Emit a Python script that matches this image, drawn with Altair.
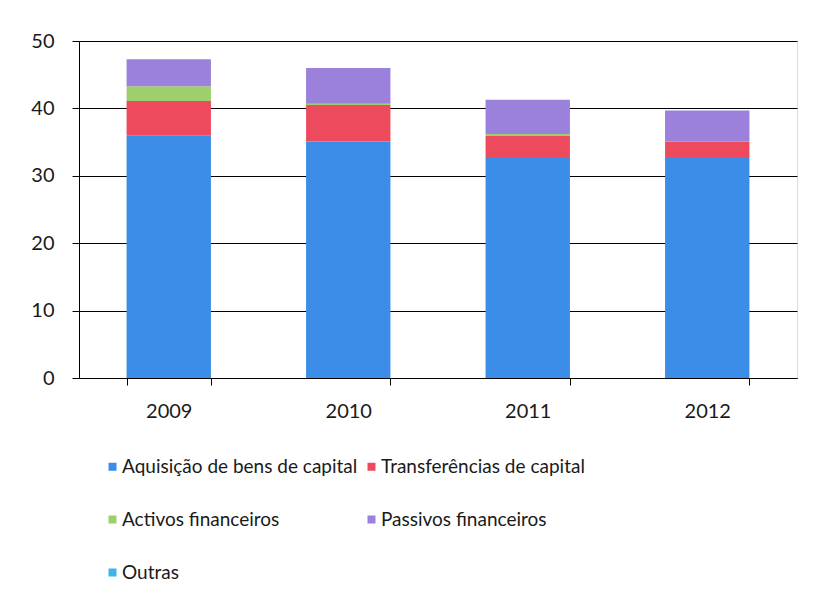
import altair as alt
import pandas as pd

years = ["2009", "2010", "2011", "2012"]
series = ["Aquisição de bens de capital", "Transferências de capital",
          "Activos financeiros", "Passivos financeiros", "Outras"]
aquisicao = [36.0, 35.1, 32.8, 32.8]
transferencias = [5.1, 5.4, 3.1, 2.3]
activos = [2.2, 0.2, 0.3, 0.0]
passivos = [4.0, 5.3, 5.1, 4.6]
outras = [0.0, 0.0, 0.0, 0.0]
colors = ["#3b8de8", "#ee4a5e", "#9dcf6c", "#9b80dc", "#3bb6e5"]

values = [aquisicao, transferencias, activos, passivos, outras]
rows = []
for si, (name, vals) in enumerate(zip(series, values)):
    for y, v in zip(years, vals):
        rows.append({"Ano": y, "Serie": name, "Valor": v, "ordem": si})
df = pd.DataFrame(rows)

# legend is laid out column by column: reorder so it reads row by row
legend_order = [0, 2, 4, 1, 3]
legend_domain = [series[i] for i in legend_order]
legend_range = [colors[i] for i in legend_order]

FONT = "Lato"

chart = alt.Chart(df).mark_bar(stroke=None).encode(
    x=alt.X("Ano:N", sort=years, title=None,
            scale=alt.Scale(paddingInner=0.53, paddingOuter=0.265),
            axis=alt.Axis(labelAngle=0, tickBand="extent", tickSize=7,
                          labelPadding=16, labelFontSize=20, labelFont=FONT,
                          labelColor="#1a1a1a", domainColor="#000", tickColor="#000",
                          grid=False)),
    y=alt.Y("Valor:Q", title=None, stack="zero",
            scale=alt.Scale(domain=[0, 50]),
            axis=alt.Axis(values=[0, 10, 20, 30, 40, 50], tickSize=7,
                          labelPadding=18, labelFontSize=20, labelFont=FONT,
                          labelColor="#1a1a1a", domainColor="#000", tickColor="#000",
                          gridColor="#000", gridWidth=1)),
    color=alt.Color("Serie:N", sort=legend_domain, title=None,
                    scale=alt.Scale(domain=legend_domain, range=legend_range),
                    legend=alt.Legend(orient="none", legendX=24, legendY=416,
                                      columns=2, columnPadding=4, rowPadding=33,
                                      symbolType="square", symbolSize=64,
                                      symbolStrokeWidth=0, labelOffset=0,
                                      labelFontSize=19, labelFont=FONT,
                                      labelColor="#1a1a1a", labelLimit=400)),
    order=alt.Order("ordem:Q", sort="ascending"),
).properties(
    width=718, height=337,
    autosize=alt.AutoSizeParams(type="none"),
    padding={"left": 71, "top": 33, "right": 11, "bottom": 210},
).configure_view(stroke=None).configure(background="white")

chart.save("out.html", embed_options={"renderer": "svg", "actions": False})
